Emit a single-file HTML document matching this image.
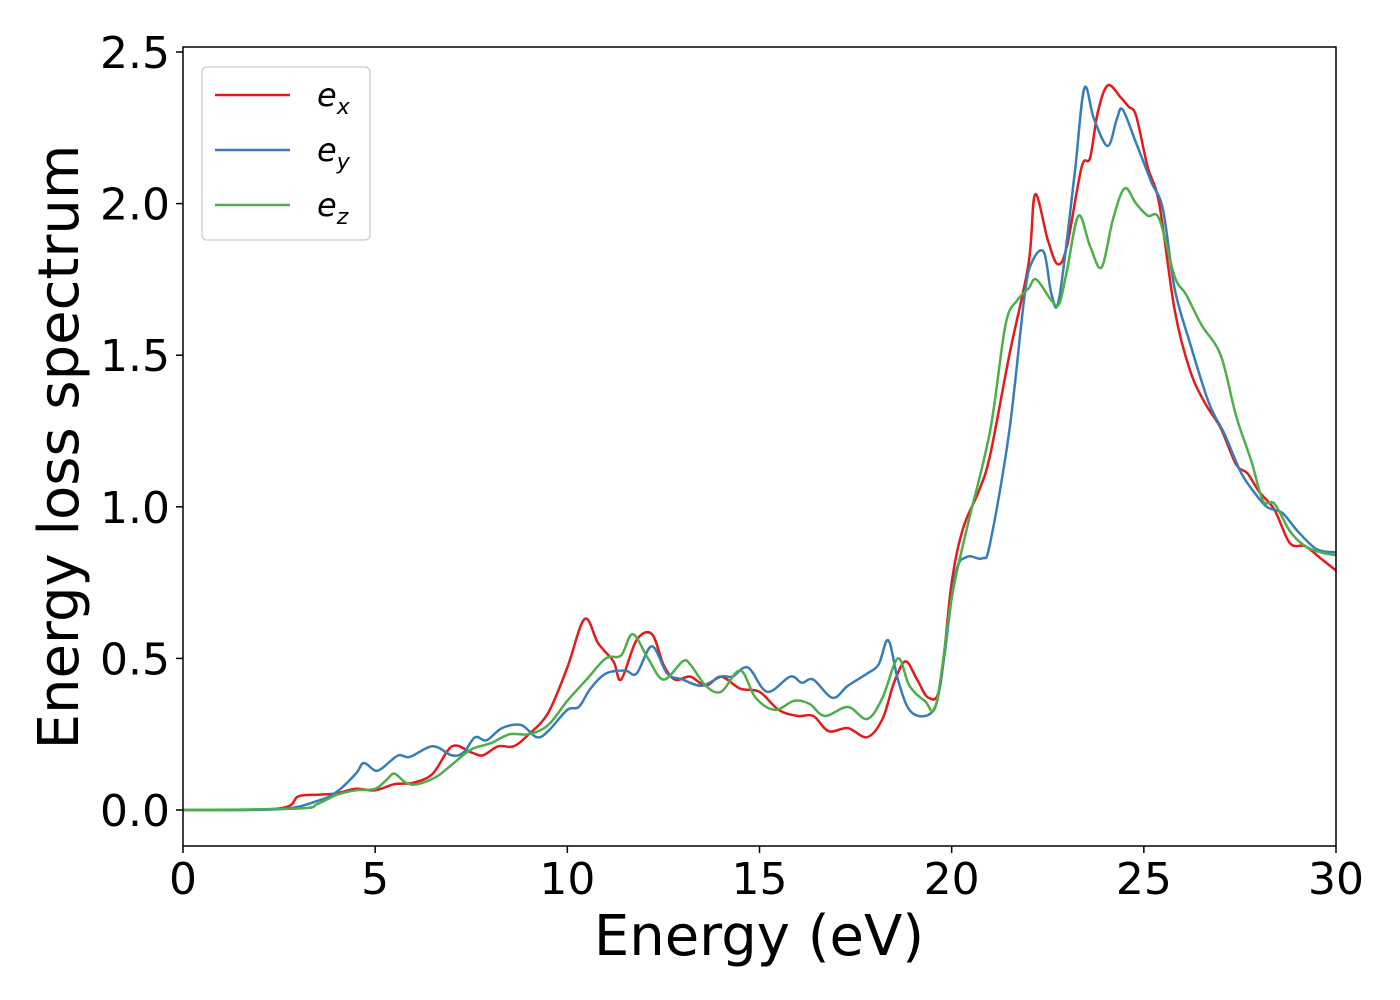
<!DOCTYPE html>
<html><head><meta charset="utf-8"><style>
body{margin:0;background:#fff;}
svg{display:block;font-family:"DejaVu Sans","Liberation Sans",sans-serif;}
</style></head><body>
<svg id="chart" width="1400" height="1000">
<rect width="1400" height="1000" fill="#fff"/>
<g id="plot"></g>
<rect x="183" y="47" width="1153" height="799" fill="none" stroke="#000" stroke-width="1.5"/>
<g id="axes"></g>
<text x="759" y="955" font-size="56" text-anchor="middle">Energy (eV)</text>
<text transform="translate(78,447) rotate(-90)" font-size="56" text-anchor="middle">Energy loss spectrum</text>
<g>
<rect x="202" y="67" width="168" height="173" rx="5" fill="#fff" stroke="#ccc" stroke-width="1.3"/>
<g><line x1="215" y1="95" x2="290" y2="95" stroke="#e41a1c" stroke-width="2.5"/><text x="317" y="106" font-size="32" font-style="italic">e<tspan font-size="22" dy="8">x</tspan></text></g>
<g><line x1="215" y1="150" x2="290" y2="150" stroke="#377eb8" stroke-width="2.5"/><text x="317" y="161" font-size="32" font-style="italic">e<tspan font-size="22" dy="8">y</tspan></text></g>
<g><line x1="215" y1="205" x2="290" y2="205" stroke="#4daf4a" stroke-width="2.5"/><text x="317" y="216" font-size="32" font-style="italic">e<tspan font-size="22" dy="8">z</tspan></text></g>
</g>
</svg>
<script>
const xTicks=[0,5,10,15,20,25,30];
const yTicks=[0.0,0.5,1.0,1.5,2.0,2.5];
const yTickLabels=["0.0","0.5","1.0","1.5","2.0","2.5"];
const exE=[0,2.5,3,3.5,4,4.5,5,5.5,6,6.5,7,7.5,7.8,8.2,8.6,9,9.5,10,10.45,10.8,11.2,11.4,11.8,12.2,12.5,12.8,13.2,13.6,14,14.5,15,15.5,16,16.4,16.8,17.3,17.8,18.2,18.5,18.8,19.1,19.4,19.7,20,20.3,20.7,21,21.5,22,22.17,22.5,22.76,23,23.38,23.6,23.8,24.06,24.4,24.6,24.8,25.1,25.4,25.8,26.2,26.6,27,27.4,27.7,28,28.4,28.8,29.2,29.6,30];
const exV=[0,0.005,0.045,0.05,0.055,0.07,0.065,0.085,0.09,0.12,0.21,0.19,0.18,0.21,0.21,0.25,0.32,0.47,0.63,0.55,0.49,0.43,0.56,0.58,0.48,0.43,0.44,0.41,0.44,0.4,0.39,0.33,0.31,0.31,0.26,0.27,0.24,0.3,0.42,0.49,0.43,0.37,0.41,0.75,0.93,1.05,1.17,1.5,1.8,2.03,1.88,1.8,1.86,2.12,2.15,2.3,2.39,2.35,2.32,2.29,2.12,2.0,1.65,1.45,1.34,1.26,1.14,1.11,1.05,0.99,0.88,0.87,0.83,0.79];
const eyE=[0,2.5,3.5,4,4.5,4.7,5,5.2,5.6,5.9,6.5,7,7.3,7.6,7.9,8.3,8.8,9.2,9.5,10,10.3,10.6,11,11.5,11.8,12.2,12.6,13,13.5,14,14.3,14.7,15.2,15.8,16.1,16.4,16.9,17.3,17.8,18.1,18.35,18.6,18.9,19.3,19.6,19.8,20.1,20.4,20.8,21,21.5,21.9,22.1,22.4,22.6,22.8,23.2,23.45,23.7,24.06,24.3,24.45,24.8,25.2,25.5,25.8,26.2,26.7,27.1,27.5,27.8,28.2,28.6,29,29.5,30];
const eyV=[0,0.003,0.03,0.06,0.12,0.155,0.13,0.14,0.18,0.175,0.21,0.18,0.19,0.24,0.23,0.27,0.28,0.24,0.26,0.33,0.34,0.4,0.45,0.46,0.45,0.54,0.45,0.43,0.41,0.44,0.44,0.47,0.39,0.44,0.42,0.43,0.37,0.41,0.45,0.48,0.56,0.43,0.33,0.31,0.35,0.5,0.78,0.835,0.83,0.88,1.25,1.7,1.81,1.84,1.7,1.69,2.1,2.38,2.28,2.19,2.28,2.31,2.2,2.07,1.98,1.72,1.54,1.34,1.24,1.12,1.06,1.0,0.98,0.92,0.86,0.85];
const ezE=[0,3,3.5,4,4.5,5,5.3,5.5,5.8,6.1,6.6,7,7.5,8,8.5,9,9.5,10,10.5,11,11.4,11.7,12.1,12.5,13,13.2,13.6,14,14.5,14.9,15.4,15.9,16.3,16.7,17.3,17.8,18.2,18.6,18.9,19.3,19.6,20,20.4,21,21.4,21.7,22,22.2,22.6,22.8,23,23.3,23.6,23.9,24.2,24.5,24.8,25.1,25.4,25.8,26.1,26.5,27,27.4,27.8,28.1,28.4,28.8,29.2,29.6,30];
const ezV=[0,0.005,0.02,0.05,0.065,0.07,0.1,0.12,0.09,0.085,0.11,0.15,0.2,0.22,0.25,0.25,0.28,0.36,0.43,0.5,0.51,0.58,0.5,0.43,0.49,0.48,0.41,0.39,0.46,0.37,0.33,0.36,0.35,0.31,0.34,0.3,0.37,0.5,0.41,0.36,0.35,0.7,0.93,1.25,1.6,1.68,1.72,1.75,1.68,1.67,1.78,1.96,1.86,1.79,1.95,2.05,2.0,1.96,1.95,1.76,1.7,1.6,1.5,1.3,1.15,1.02,1.01,0.92,0.87,0.85,0.84];
const NS="http://www.w3.org/2000/svg";
const X0=183,X1=1336,Y0=810,YPU=303.2;
function sx(e){return X0+e*(X1-X0)/30;}
function sy(v){return Y0-v*YPU;}
function pathFor(E,V){
  const p=E.map((e,i)=>[sx(e),sy(V[i])]);
  let d="M"+p[0][0].toFixed(1)+","+p[0][1].toFixed(1);
  for(let i=0;i<p.length-1;i++){
    const a=p[Math.max(i-1,0)],b=p[i],c=p[i+1],n=p[Math.min(i+2,p.length-1)];
    const c1=[b[0]+(c[0]-a[0])/6,b[1]+(c[1]-a[1])/6],c2=[c[0]-(n[0]-b[0])/6,c[1]-(n[1]-b[1])/6];
    d+="C"+c1[0].toFixed(1)+","+c1[1].toFixed(1)+" "+c2[0].toFixed(1)+","+c2[1].toFixed(1)+" "+c[0].toFixed(1)+","+c[1].toFixed(1);
  }
  return d;
}
const plot=document.getElementById("plot");
const series=[[exE,exV,"#e41a1c","line-ex"],[eyE,eyV,"#377eb8","line-ey"],[ezE,ezV,"#4daf4a","line-ez"]];
series.forEach(s=>{
  const el=document.createElementNS(NS,"path");
  el.setAttribute("d",pathFor(s[0],s[1]));
  el.setAttribute("fill","none");el.setAttribute("stroke",s[2]);el.setAttribute("stroke-width","2.5");
  
  
  plot.appendChild(el);
});
const axes=document.getElementById("axes");
xTicks.forEach(t=>{
  const l=document.createElementNS(NS,"line");
  l.setAttribute("x1",sx(t));l.setAttribute("x2",sx(t));l.setAttribute("y1",846);l.setAttribute("y2",853);l.setAttribute("stroke","#000");l.setAttribute("stroke-width","1.5");
  
  
  axes.appendChild(l);
  const tx=document.createElementNS(NS,"text");
  tx.setAttribute("x",sx(t));tx.setAttribute("y",894);tx.setAttribute("font-size","44");tx.setAttribute("text-anchor","middle");
  tx.textContent=String(t);
  
  
  axes.appendChild(tx);
});
yTicks.forEach((t,i)=>{
  const l=document.createElementNS(NS,"line");
  l.setAttribute("x1",176);l.setAttribute("x2",183);l.setAttribute("y1",sy(t));l.setAttribute("y2",sy(t));l.setAttribute("stroke","#000");l.setAttribute("stroke-width","1.5");
  
  
  axes.appendChild(l);
  const tx=document.createElementNS(NS,"text");
  tx.setAttribute("x",170);tx.setAttribute("y",sy(t)+16);tx.setAttribute("font-size","44");tx.setAttribute("text-anchor","end");
  tx.textContent=yTickLabels[i];
  
  
  axes.appendChild(tx);
});
</script>
</body></html>
